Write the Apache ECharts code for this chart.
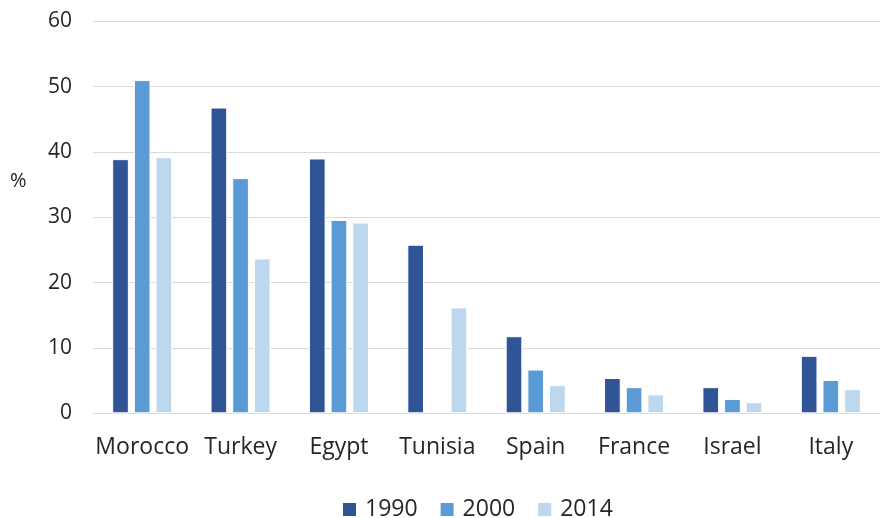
<!DOCTYPE html>
<html>
<head>
<meta charset="utf-8">
<script src="https://cdn.jsdelivr.net/npm/echarts@6/dist/echarts.min.js"></script>
<style>
html,body{margin:0;padding:0;background:#fff;}
#chart{width:880px;height:518px;}
</style>
</head>
<body>
<div id="chart"></div>
<script>
var categories = ["Morocco", "Turkey", "Egypt", "Tunisia", "Spain", "France", "Israel", "Italy"];
var seriesNames = ["1990", "2000", "2014"];
var values1990 = [38.9, 46.8, 39.0, 25.8, 11.8, 5.4, 4.0, 8.8];
var values2000 = [51.0, 36.0, 29.6, null, 6.7, 4.0, 2.2, 5.1];
var values2014 = [39.2, 23.7, 29.2, 16.2, 4.3, 2.9, 1.7, 3.7];
var yTicks = [0, 10, 20, 30, 40, 50, 60];

var colors = ["#2F5597", "#5B9BD5", "#BDD7EE"];
var FONT = "Open Sans";
var TXT = "#262626";

var chart = echarts.init(document.getElementById('chart'), null, {renderer: 'canvas'});
var allValues = [values1990, values2000, values2014];
var series = seriesNames.map(function (name, i) {
  return {
    name: name,
    type: 'bar',
    data: allValues[i],
    barCategoryGap: '39%',
    barGap: '30%',
    itemStyle: {color: colors[i], borderColor: '#ffffff', borderWidth: 1},
    emphasis: {disabled: true}
  };
});

chart.setOption({
  animation: false,
  color: colors,
  grid: {left: 93, top: 21.3, width: 800, height: 392, containLabel: false},
  legend: {
    data: seriesNames,
    left: 336,
    top: 493,
    itemWidth: 15,
    itemHeight: 15,
    itemGap: 21,
    icon: 'rect',
    textStyle: {fontFamily: FONT, fontSize: 23, color: TXT, padding: [0, 0, 0, 3]}
  },
  graphic: [{
    type: 'text',
    left: 10,
    top: 171,
    style: {text: '%', font: '20px "' + FONT + '"', fill: TXT}
  }],
  xAxis: {
    type: 'category',
    data: categories,
    axisLine: {show: true, lineStyle: {color: '#D9D9D9', width: 1}},
    axisTick: {show: false},
    axisLabel: {fontFamily: FONT, fontSize: 23, color: TXT, margin: 23, interval: 0}
  },
  yAxis: {
    type: 'value',
    min: yTicks[0],
    max: yTicks[yTicks.length - 1],
    interval: 10,
    axisLine: {show: false},
    axisTick: {show: false},
    splitLine: {lineStyle: {color: '#D9D9D9', width: 1}},
    axisLabel: {fontFamily: FONT, fontSize: 21, color: TXT, margin: 21}
  },
  series: series
});
</script>
</body>
</html>
